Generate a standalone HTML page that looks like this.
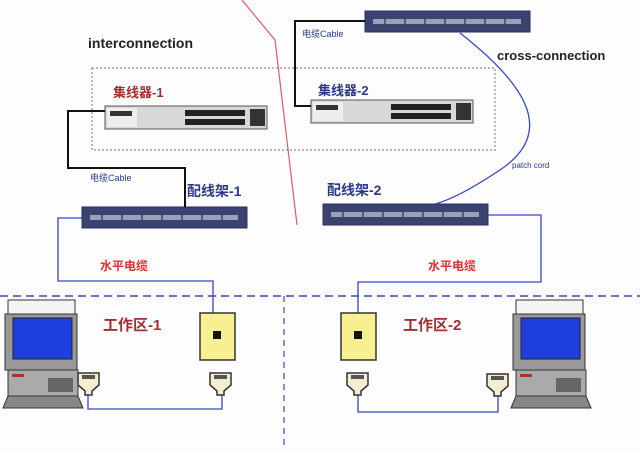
<!DOCTYPE html><html><head><meta charset="utf-8"><style>
body{margin:0;width:640px;height:447px;background:#fdfdfd;overflow:hidden;font-family:"Liberation Sans","Noto Sans CJK SC",sans-serif}
</style></head><body>
<svg width="640" height="447" viewBox="0 0 640 447" xmlns="http://www.w3.org/2000/svg" font-family="Liberation Sans, Noto Sans CJK SC, sans-serif">
<defs>
<g id="panel"><rect x="0" y="0" width="165" height="21" fill="#3a4270" stroke="#2a3060"/><rect x="8" y="8" width="148" height="5" fill="#9aa0b8"/><g stroke="#3a4270" stroke-width="1.5"><path d="M20 8v5M40 8v5M60 8v5M80 8v5M100 8v5M120 8v5M140 8v5"/></g></g>
<g id="hub"><rect x="0" y="0" width="162" height="23" fill="#d8d8d8" stroke="#555"/><rect x="2" y="2" width="30" height="19" fill="#eee"/><rect x="5" y="5" width="22" height="5" fill="#333"/><rect x="80" y="4" width="60" height="6" fill="#222"/><rect x="80" y="13" width="60" height="6" fill="#222"/><rect x="145" y="3" width="15" height="17" fill="#333"/></g>
<g id="pc"><rect x="8" y="300" width="67" height="14" fill="#f4f4f4" stroke="#333"/><rect x="5" y="314" width="72" height="56" fill="#999" stroke="#333"/><rect x="13" y="318" width="59" height="41" fill="#1e3ee0" stroke="#222"/><rect x="8" y="370" width="70" height="28" fill="#aaa" stroke="#333"/><rect x="12" y="374" width="12" height="3" fill="#a33"/><rect x="48" y="378" width="25" height="14" fill="#666"/><path d="M3 408 L8 396 H78 L83 408 Z" fill="#888" stroke="#333"/></g>
<g id="plug"><path d="M0 0 H21 V12 L14 18 V22 H7 V18 L0 12 Z" fill="#f3eed0" stroke="#333" stroke-width="1.5"/><rect x="4" y="2" width="13" height="4" fill="#555"/></g>
</defs>
<text x="88" y="48" font-size="14" font-weight="bold" fill="#222">interconnection</text>
<text x="497" y="60" font-size="13" font-weight="bold" fill="#222">cross-connection</text>
<path d="M242 0 L275 40 L297 225" stroke="#e05a6a" stroke-width="1.2" fill="none"/>
<rect x="92" y="68" width="403" height="82" fill="none" stroke="#6a70a0" stroke-dasharray="2,2"/>
<text x="113" y="97" font-size="13" font-weight="bold" fill="#a03030">集线器-1</text>
<text x="318" y="95" font-size="13" font-weight="bold" fill="#2a3888">集线器-2</text>
<use href="#hub" x="105" y="106"/>
<use href="#hub" x="311" y="100"/>
<use href="#panel" x="365" y="11"/>
<use href="#panel" x="82" y="207"/>
<use href="#panel" x="323" y="204"/>
<path d="M105 111 H68 V168 H185 V207" stroke="#111" stroke-width="2" fill="none"/>
<path d="M365 21 H295 V106 H311" stroke="#111" stroke-width="2" fill="none"/>
<text x="90" y="181" font-size="9" fill="#2a3888">电缆Cable</text>
<text x="302" y="37" font-size="9" fill="#2a3888">电缆Cable</text>
<text x="512" y="168" font-size="8" fill="#2a3888">patch cord</text>
<text x="187" y="196" font-size="14" font-weight="bold" fill="#2a3888">配线架-1</text>
<text x="327" y="195" font-size="14" font-weight="bold" fill="#2a3888">配线架-2</text>
<path d="M460 33 C520 80 560 130 500 170 C470 190 450 200 435 204" stroke="#3a48c0" stroke-width="1.3" fill="none"/>
<g stroke="#3a48c0" stroke-width="1.3" fill="none">
<path d="M82 218 H58 V281 H213 V313"/>
<path d="M488 215 H541 V282 H358 V313"/>
<path d="M88 395 V409 H222 V395"/>
<path d="M358 395 V412 H498 V395"/>
</g>
<text x="100" y="270" font-size="12" font-weight="bold" fill="#e03030">水平电缆</text>
<text x="428" y="270" font-size="12" font-weight="bold" fill="#e03030">水平电缆</text>
<path d="M0 296 H640" stroke="#3a48c0" stroke-width="1.5" stroke-dasharray="8,5"/>
<path d="M284 296 V447" stroke="#3a48c0" stroke-width="1.2" stroke-dasharray="6,5"/>
<text x="103" y="330" font-size="15" font-weight="bold" fill="#a03030">工作区-1</text>
<text x="403" y="330" font-size="15" font-weight="bold" fill="#a03030">工作区-2</text>
<use href="#pc"/>
<use href="#pc" x="508"/>
<rect x="200" y="313" width="35" height="47" fill="#f8f090" stroke="#333" stroke-width="1.5"/><rect x="213" y="331" width="8" height="8" fill="#111"/>
<rect x="341" y="313" width="35" height="47" fill="#f8f090" stroke="#333" stroke-width="1.5"/><rect x="354" y="331" width="8" height="8" fill="#111"/>
<use href="#plug" x="78" y="373"/>
<use href="#plug" x="210" y="373"/>
<use href="#plug" x="347" y="373"/>
<use href="#plug" x="487" y="374"/>
</svg>
</body></html>
